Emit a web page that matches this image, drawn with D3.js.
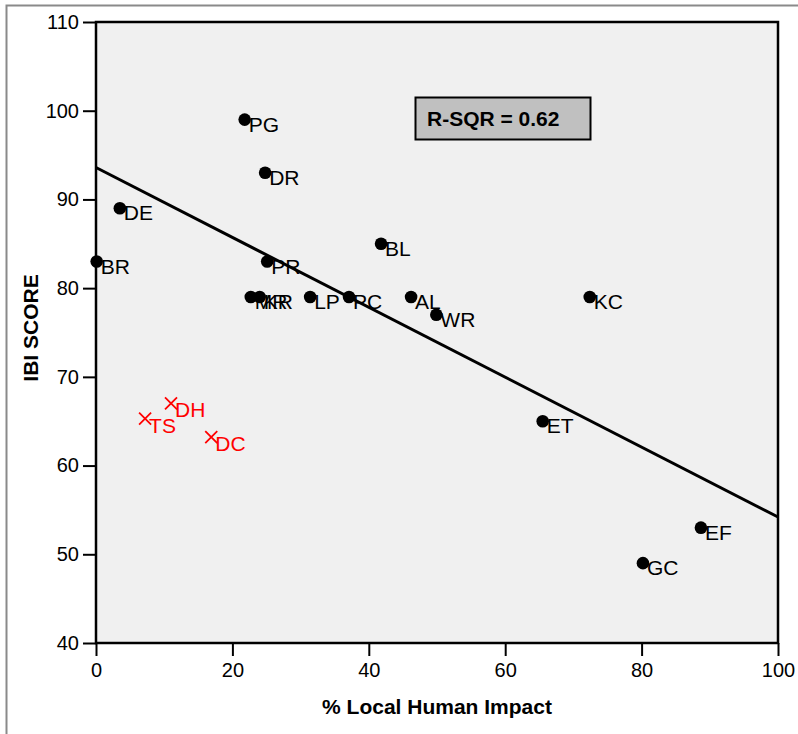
<!DOCTYPE html>
<html>
<head>
<meta charset="utf-8">
<script src="https://cdn.jsdelivr.net/npm/d3@7"></script>
<style>
  html, body { margin: 0; padding: 0; background: #ffffff; }
  svg { display: block; font-family: "Liberation Sans", Arial, sans-serif; }
</style>
</head>
<body>
<svg id="chart" width="798" height="734"></svg>
<script>
// Sites included in the fit (black dots)
const siteNames = ["PG", "DR", "DE", "BR", "PR", "BL", "MR", "KR", "LP", "PC", "AL", "WR", "KC", "ET", "EF", "GC"];
const siteImpact = [21.8, 24.8, 3.5, 0.1, 25.1, 41.8, 22.7, 24.0, 31.4, 37.1, 46.2, 49.9, 72.4, 65.5, 88.7, 80.2];
const siteIBI = [99, 93, 89, 83, 83, 85, 79, 79, 79, 79, 79, 77, 79, 65, 53, 49];

// Excluded sites (red crosses)
const outlierNames = ["TS", "DH", "DC"];
const outlierImpact = [7.2, 11.0, 16.9];
const outlierIBI = [65.3, 67, 63.2];

// Fitted line: IBI = intercept + slope * impact
const fitIntercept = 93.6;
const fitSlope = -0.394;
const rSquared = 0.62;

const xTicks = [0, 20, 40, 60, 80, 100];
const yTicks = [40, 50, 60, 70, 80, 90, 100, 110];

const svg = d3.select("#chart");
const plotLeft = 96, plotRight = 778, plotTop = 22, plotBottom = 643;

const x = d3.scaleLinear().domain([0, 100]).range([plotLeft, plotRight]);
const y = d3.scaleLinear().domain([40, 110]).range([plotBottom, plotTop]);

// outer frame
svg.append("path")
  .attr("d", `M6.5,734 L6.5,5.5 L798,5.5`)
  .attr("fill", "none").attr("stroke", "#8a8a8a").attr("stroke-width", 2);

// plot background
svg.append("rect")
  .attr("x", plotLeft).attr("y", plotTop)
  .attr("width", plotRight - plotLeft).attr("height", plotBottom - plotTop)
  .attr("fill", "#f0f0f0");

// axes
const xAxis = d3.axisBottom(x).tickValues(xTicks).tickSize(13).tickPadding(7).tickFormat(d3.format("d"));
const yAxis = d3.axisLeft(y).tickValues(yTicks).tickSize(13).tickPadding(4).tickFormat(d3.format("d"));

const gx = svg.append("g").attr("transform", `translate(0,${plotBottom})`).call(xAxis);
const gy = svg.append("g").attr("transform", `translate(${plotLeft},0)`).call(yAxis);
[gx, gy].forEach(g => {
  g.select(".domain").remove();
  g.selectAll(".tick line").attr("stroke", "#000").attr("stroke-width", 2);
  g.selectAll(".tick text").attr("fill", "#000").attr("font-size", 20)
    .attr("font-family", "Liberation Sans, Arial, sans-serif");
});

// fitted line
const fitLine = d3.line().x(d => x(d)).y(d => y(fitIntercept + fitSlope * d));
svg.append("path")
  .datum([0, 100])
  .attr("d", fitLine)
  .attr("fill", "none").attr("stroke", "#000").attr("stroke-width", 3);

// black points
const sites = siteNames.map((n, i) => ({ name: n, impact: siteImpact[i], ibi: siteIBI[i] }));
svg.append("g").selectAll("circle").data(sites).join("circle")
  .attr("cx", d => x(d.impact)).attr("cy", d => y(d.ibi)).attr("r", 6.3)
  .attr("fill", "#000");
svg.append("g").selectAll("text").data(sites).join("text")
  .attr("x", d => x(d.impact) + 4).attr("y", d => y(d.ibi) + 12)
  .attr("font-size", 21).attr("fill", "#000")
  .text(d => d.name);

// red crosses
const outliers = outlierNames.map((n, i) => ({ name: n, impact: outlierImpact[i], ibi: outlierIBI[i] }));
const gOut = svg.append("g");
outliers.forEach(d => {
  const cx = x(d.impact), cy = y(d.ibi), s = 6;
  gOut.append("path")
    .attr("d", `M${cx - s},${cy - s}L${cx + s},${cy + s}M${cx - s},${cy + s}L${cx + s},${cy - s}`)
    .attr("stroke", "#ff0000").attr("stroke-width", 1.8).attr("fill", "none");
  gOut.append("text")
    .attr("x", cx + 4).attr("y", cy + 14)
    .attr("font-size", 21).attr("fill", "#ff0000")
    .text(d.name);
});

// plot border
svg.append("rect")
  .attr("x", plotLeft).attr("y", plotTop)
  .attr("width", plotRight - plotLeft).attr("height", plotBottom - plotTop)
  .attr("fill", "none").attr("stroke", "#000").attr("stroke-width", 2.5);

// R-squared box
svg.append("rect")
  .attr("x", 415.5).attr("y", 97.5).attr("width", 175).attr("height", 42)
  .attr("fill", "#c0c0c0").attr("stroke", "#000").attr("stroke-width", 2);
svg.append("text")
  .attr("x", 427).attr("y", 126)
  .attr("font-size", 21).attr("font-weight", "bold").attr("fill", "#000")
  .text(`R-SQR = ${rSquared.toFixed(2)}`);

// axis titles
svg.append("text")
  .attr("x", 437).attr("y", 714)
  .attr("text-anchor", "middle").attr("font-size", 21).attr("font-weight", "bold")
  .text("% Local Human Impact");
svg.append("text")
  .attr("transform", `translate(38,328) rotate(-90)`)
  .attr("text-anchor", "middle").attr("font-size", 21).attr("font-weight", "bold")
  .text("IBI SCORE");
</script>
</body>
</html>
